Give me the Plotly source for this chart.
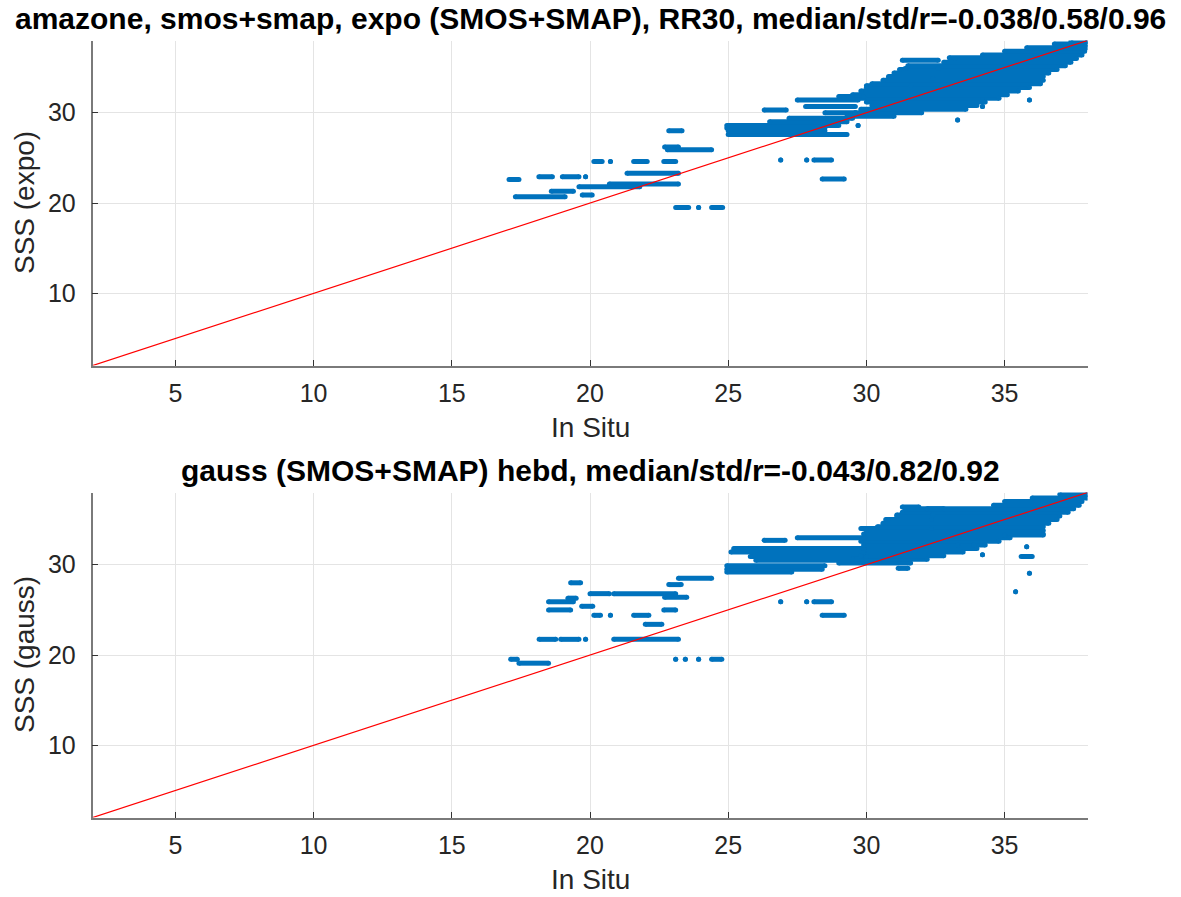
import plotly.graph_objects as go

W, H = 1181, 897
axis_range = [2, 38]
x_ticks = [5, 10, 15, 20, 25, 30, 35]
y_ticks = [10, 20, 30]
diag_line = [2, 38]

top_title = "amazone, smos+smap, expo (SMOS+SMAP), RR30, median/std/r=-0.038/0.58/0.96"
bot_title = "gauss (SMOS+SMAP) hebd, median/std/r=-0.043/0.82/0.92"
x_label = "In Situ"
top_ylabel = "SSS (expo)"
bot_ylabel = "SSS (gauss)"

# streaks of points: (satellite SSS, in-situ start, in-situ end)
top_streaks = [
    (22.6, 17.07, 17.43), (22.9, 18.15, 18.64), (22.9, 19.0, 19.6), (22.9, 19.84, 19.84),
    (21.3, 18.6, 19.4), (20.9, 19.72, 20.08), (20.7, 17.3, 19.1),
    (24.6, 20.14, 20.44), (24.6, 20.74, 20.74), (24.6, 21.58, 22.07), (24.6, 22.67, 23.1),
    (23.3, 21.34, 23.2), (22.1, 20.7, 23.2), (21.8, 19.6, 21.8),
    (28.0, 22.85, 23.33), (26.2, 22.7, 23.2), (25.9, 22.8, 24.4),
    (19.5, 23.1, 23.57), (19.5, 23.93, 23.93), (19.5, 24.4, 24.8),
    (24.77, 26.9, 26.9), (24.77, 27.84, 27.84), (24.77, 28.1, 28.74), (22.66, 28.4, 29.2),
    (27.6, 25.0, 29.3), (28.0, 25.0, 28.5), (28.3, 24.95, 28.5), (28.6, 24.95, 29.0),
    (28.6, 29.7, 29.7), (29.0, 26.5, 29.3), (29.4, 27.2, 29.5), (30.3, 26.3, 27.1),
    (30.7, 27.8, 29.6), (30.0, 28.5, 29.6), (31.4, 27.5, 29.7), (31.8, 29.0, 29.9),
    (29.2, 33.3, 33.3), (31.4, 35.9, 35.9), (31.4, 34.2, 34.2), (30.7, 34.2, 34.2),
    (33.0, 30.0, 31.6), (33.8, 30.8, 32.4), (34.9, 31.4, 32.6), (35.8, 31.3, 32.6),
    (36.1, 33.0, 36.0),
]
top_blob = [
    (29.6, 29.3, 31.0), (30.0, 29.6, 32.0), (30.4, 29.8, 33.6), (30.8, 30.2, 34.0),
    (31.2, 30.0, 34.3), (31.6, 29.2, 34.8), (32.0, 29.5, 35.1), (32.4, 29.8, 35.5),
    (32.8, 30.0, 35.9), (33.2, 30.2, 36.3), (33.6, 30.6, 36.4), (34.0, 30.8, 36.4),
    (34.4, 31.0, 36.6), (34.8, 31.2, 36.9), (35.2, 31.5, 37.2), (35.6, 32.8, 37.4),
    (36.0, 33.2, 37.6), (36.4, 34.2, 37.8), (36.8, 35.0, 37.9), (37.2, 35.8, 38.0),
    (37.6, 36.8, 38.0), (37.9, 37.4, 38.0),
]
bot_streaks = [
    (28.0, 19.3, 19.66), (28.5, 23.2, 24.4), (27.8, 22.85, 23.3),
    (26.8, 20.0, 20.7), (26.8, 20.86, 23.1), (26.4, 22.7, 23.5), (26.3, 19.2, 19.5),
    (25.9, 18.5, 19.4), (25.0, 18.5, 19.3), (25.4, 19.7, 20.1), (25.0, 22.67, 23.1),
    (24.4, 20.14, 20.38), (24.4, 20.74, 20.74), (24.4, 21.58, 22.13), (23.4, 22.0, 22.6),
    (21.74, 18.16, 18.76), (21.74, 18.94, 19.6), (21.74, 19.84, 19.84), (21.74, 20.86, 23.2),
    (19.53, 17.13, 17.37), (19.1, 17.43, 18.5),
    (19.53, 23.1, 23.1), (19.53, 23.45, 23.45), (19.53, 23.93, 23.93), (19.53, 24.4, 24.77),
    (25.9, 26.9, 26.9), (25.9, 27.84, 27.84), (25.9, 28.1, 28.74), (24.4, 28.4, 29.2),
    (29.2, 24.95, 27.3), (29.5, 24.95, 28.4), (29.9, 24.95, 28.5),
    (30.5, 26.0, 30.0), (30.9, 25.8, 30.0), (31.4, 25.1, 29.9), (31.8, 25.2, 29.9),
    (32.7, 26.3, 27.06), (33.0, 27.5, 29.95),
    (34.0, 29.8, 32.35), (35.0, 30.7, 32.35), (35.5, 31.1, 32.4), (36.4, 31.3, 31.9),
    (36.2, 32.2, 32.8), (32.2, 33.3, 33.9), (31.1, 34.2, 34.2), (33.3, 35.0, 36.4),
    (32.0, 35.8, 35.8), (30.9, 35.6, 36.0), (29.05, 35.9, 35.9), (27.0, 35.4, 35.4),
    (29.6, 31.15, 31.5),
]
bot_blob = [
    (30.2, 29.0, 31.6), (30.6, 29.5, 32.2), (31.0, 29.8, 32.8), (31.4, 29.9, 33.5),
    (31.8, 29.9, 34.0), (32.2, 29.9, 34.3), (32.6, 29.8, 34.8), (33.0, 29.9, 35.2),
    (33.4, 29.9, 36.4), (33.8, 30.0, 36.4), (34.2, 30.4, 36.4), (34.6, 30.6, 36.6),
    (35.0, 30.8, 36.9), (35.4, 31.1, 37.0), (35.8, 31.3, 37.3), (36.2, 31.4, 37.5),
    (36.6, 34.6, 37.7), (37.0, 35.0, 37.8), (37.4, 36.0, 38.0), (37.8, 37.0, 38.0),
]

BLUE = "#0072BD"
FONT = "Liberation Sans, Arial, Helvetica, sans-serif"
TXT = "#262626"


def segments(streaks):
    xs, ys = [], []
    for y, x0, x1 in streaks:
        xs += [x0, x1, None]
        ys += [y, y, None]
    return xs, ys


fig = go.Figure()
for streaks, xa, ya in [(top_streaks + top_blob, "x", "y"), (bot_streaks + bot_blob, "x2", "y2")]:
    xs, ys = segments(streaks)
    fig.add_trace(go.Scatter(x=xs, y=ys, xaxis=xa, yaxis=ya, mode="lines+markers",
                             line=dict(color=BLUE, width=5),
                             marker=dict(color=BLUE, size=5), showlegend=False,
                             hoverinfo="skip"))
    fig.add_trace(go.Scatter(x=diag_line, y=diag_line, xaxis=xa, yaxis=ya, mode="lines",
                             line=dict(color="#ff0000", width=1.2), showlegend=False))

# pixel geometry
L, R = 92.5, 1087.5
T1, B1 = 40.5, 365.6
T2, B2 = 492.5, 817.6


def px(x):
    return x / W


def py(y):
    return 1 - y / H


axis_common = dict(
    range=axis_range, showline=True, linecolor="#7a7a7a", linewidth=1.5, mirror=False,
    ticks="inside", ticklen=6, tickcolor="#333333", tickwidth=1.2,
    showgrid=True, gridcolor="#e4e4e4", gridwidth=1.2, zeroline=False,
    tickfont=dict(family=FONT, size=25, color=TXT),
)
fig.update_layout(
    width=W, height=H, margin=dict(l=0, r=0, t=0, b=0),
    paper_bgcolor="white", plot_bgcolor="white",
    xaxis=dict(domain=[px(L), px(R)], anchor="y", tickvals=x_ticks, ticklabelstandoff=5, **axis_common),
    yaxis=dict(domain=[py(B1), py(T1)], anchor="x", tickvals=y_ticks, ticklabelstandoff=10, **axis_common),
    xaxis2=dict(domain=[px(L), px(R)], anchor="y2", tickvals=x_ticks, ticklabelstandoff=5, **axis_common),
    yaxis2=dict(domain=[py(B2), py(T2)], anchor="x2", tickvals=y_ticks, ticklabelstandoff=10, **axis_common),
)

ann = []
lab_font = dict(family=FONT, size=28, color=TXT)
tit_font = dict(family=FONT, size=30, color="#000000")
for title, ylab, top, bot in [(top_title, top_ylabel, T1, B1), (bot_title, bot_ylabel, T2, B2)]:
    ann.append(dict(text="<b>" + title + "</b>", x=px((L + R) / 2), y=py(top - 22),
                    xref="paper", yref="paper", showarrow=False, font=tit_font,
                    xanchor="center", yanchor="middle"))
    ann.append(dict(text=ylab, x=px(24), y=py((top + bot) / 2), textangle=-90,
                    xref="paper", yref="paper", showarrow=False, font=lab_font,
                    xanchor="center", yanchor="middle"))
    ann.append(dict(text=x_label, x=px((L + R) / 2), y=py(bot + 62),
                    xref="paper", yref="paper", showarrow=False, font=lab_font,
                    xanchor="center", yanchor="middle"))
fig.update_layout(annotations=ann)

fig.write_html("out.html", config={"displayModeBar": False},
               post_script="document.body.style.margin='0px';")
